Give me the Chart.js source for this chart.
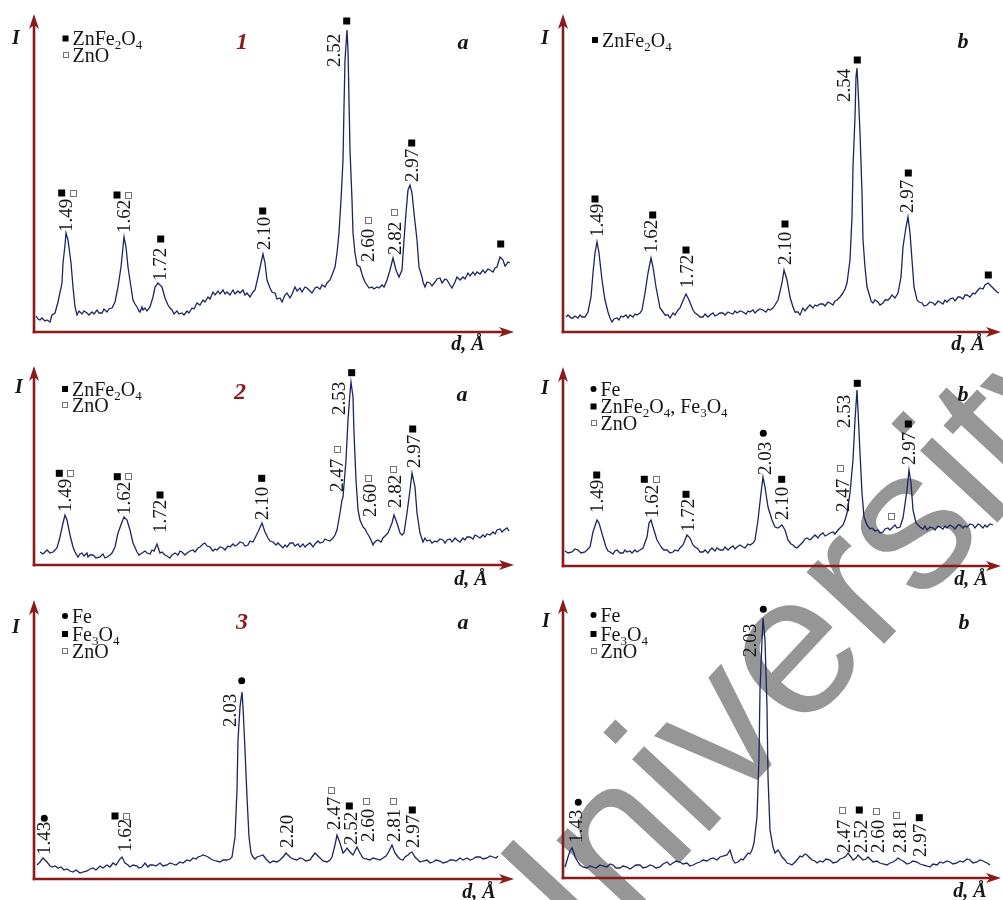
<!DOCTYPE html>
<html><head><meta charset="utf-8">
<script src="https://cdn.jsdelivr.net/npm/chart.js@4.4.1/dist/chart.umd.min.js"></script>
<style>
html,body{margin:0;padding:0;background:#fff;}
#page{position:relative;width:1003px;height:900px;overflow:hidden;background:#fff;}
</style></head><body><div id="page"></div>
<script>
// ---- Diffraction patterns: [position along d axis (arb. units), intensity (arb. units)] ----
const p1a = [[2,16],[4,13],[6,12],[8,14],[11,11],[13,12],[16,10],[18,17],[21,19],[24,30],[28,49],[29,69],[31,87],[32,99],[34,92],[37,69],[39,45],[41,25],[43,17],[45,21],[48,18],[50,21],[53,19],[55,17],[58,20],[60,18],[63,22],[65,19],[68,19],[70,23],[73,20],[75,23],[78,24],[81,30],[84,45],[87,65],[89,85],[90,95],[92,85],[94,65],[97,45],[99,32],[101,28],[103,25],[105,21],[106,20],[108,25],[109,22],[111,24],[113,21],[116,25],[119,35],[121,45],[124,49],[128,45],[131,34],[134,27],[136,24],[138,22],[140,18],[143,21],[145,18],[148,19],[150,17],[153,21],[155,19],[158,24],[160,23],[163,29],[166,27],[169,32],[171,30],[174,35],[176,33],[179,40],[181,37],[184,41],[186,38],[189,42],[191,38],[193,40],[196,37],[199,42],[201,38],[204,41],[206,39],[209,42],[211,37],[213,39],[216,35],[219,40],[221,42],[224,55],[227,69],[229,78],[231,69],[233,52],[236,44],[238,40],[241,39],[243,33],[246,34],[248,30],[251,37],[253,39],[256,34],[258,38],[261,45],[263,41],[266,44],[268,40],[271,45],[273,44],[276,41],[278,39],[281,44],[283,45],[286,43],[288,47],[291,45],[293,49],[296,52],[298,57],[301,65],[303,79],[305,99],[307,132],[309,172],[310,225],[311,272],[313,302],[314,282],[315,232],[316,182],[318,132],[319,99],[321,79],[323,67],[326,65],[328,58],[329,55],[331,50],[333,47],[335,44],[338,45],[340,43],[343,45],[345,44],[348,47],[350,45],[353,52],[356,62],[359,74],[362,62],[365,55],[368,62],[370,92],[372,119],[374,142],[376,147],[378,139],[380,119],[383,92],[385,65],[388,55],[389,50],[391,45],[393,50],[396,49],[398,46],[401,50],[403,53],[406,54],[408,49],[411,53],[413,52],[416,47],[418,44],[421,50],[423,55],[426,52],[429,55],[431,53],[434,59],[436,56],[439,60],[441,57],[443,60],[446,58],[449,62],[451,59],[454,63],[456,62],[459,60],[461,64],[463,65],[466,75],[469,72],[471,66],[472,67],[474,70],[476,69]];
const p1b = [[3,15],[5,17],[8,14],[10,14],[12,16],[15,14],[17,17],[19,15],[22,15],[25,20],[28,35],[30,59],[32,79],[34,90],[36,79],[39,52],[42,32],[45,20],[47,14],[49,10],[51,13],[54,14],[56,12],[58,16],[60,15],[63,17],[65,14],[67,17],[70,15],[72,18],[74,17],[77,19],[79,22],[82,39],[85,59],[88,74],[90,65],[93,45],[97,24],[100,20],[102,17],[105,17],[107,14],[110,19],[112,17],[115,22],[117,24],[119,29],[123,38],[126,32],[130,22],[132,19],[135,17],[137,15],[140,15],[142,18],[145,15],[147,17],[150,19],[152,16],[154,17],[157,19],[160,19],[162,17],[165,20],[167,19],[170,18],[172,21],[174,19],[177,21],[180,20],[183,18],[185,21],[187,20],[190,22],[192,19],[194,21],[197,23],[200,22],[203,20],[205,23],[207,22],[210,24],[212,27],[215,32],[219,49],[221,62],[224,52],[227,35],[230,25],[232,20],[235,20],[237,17],[240,24],[242,21],[245,25],[247,27],[250,24],[252,27],[254,26],[257,28],[260,28],[262,26],[265,30],[267,29],[270,27],[272,31],[274,32],[277,35],[280,39],[282,43],[284,49],[287,72],[289,115],[290,165],[292,215],[293,255],[294,264],[295,245],[297,199],[299,139],[300,92],[302,65],[304,45],[307,35],[308,31],[310,29],[312,32],[315,30],[317,27],[320,29],[322,32],[325,32],[327,34],[329,37],[332,34],[335,39],[338,55],[340,85],[343,105],[345,115],[347,99],[349,72],[351,45],[354,32],[356,30],[359,29],[361,26],[364,27],[367,30],[370,29],[372,27],[375,31],[377,30],[380,28],[382,32],[384,30],[387,33],[390,34],[392,31],[395,35],[397,35],[400,33],[402,37],[404,37],[407,35],[410,39],[412,38],[415,42],[417,44],[420,43],[422,47],[425,49],[427,47],[429,45],[432,42],[434,40],[436,39]];
const p2a = [[6,13],[9,11],[13,15],[16,12],[19,13],[21,15],[23,17],[26,28],[29,42],[31,50],[33,45],[36,30],[39,18],[41,13],[44,8],[46,11],[48,12],[50,9],[51,10],[53,12],[54,8],[56,10],[59,10],[62,7],[66,8],[69,11],[71,7],[73,8],[76,10],[78,12],[81,18],[84,32],[88,43],[90,48],[93,45],[96,35],[99,22],[103,13],[105,10],[108,12],[111,14],[113,12],[116,11],[118,15],[120,14],[123,21],[126,12],[128,13],[131,10],[133,9],[136,7],[138,10],[141,12],[144,10],[146,14],[148,13],[151,10],[153,12],[156,14],[159,15],[161,13],[164,17],[166,18],[169,21],[171,22],[173,19],[176,18],[179,14],[181,16],[183,15],[186,18],[189,17],[191,15],[194,19],[196,18],[199,21],[201,19],[203,20],[206,23],[209,22],[211,19],[214,20],[216,24],[219,23],[221,27],[224,33],[228,42],[231,33],[234,27],[236,24],[239,23],[242,20],[244,22],[246,20],[249,17],[251,20],[253,18],[256,22],[259,22],[261,19],[264,21],[266,18],[269,21],[271,18],[273,20],[276,22],[279,18],[281,21],[284,24],[286,22],[289,23],[291,26],[293,25],[296,24],[299,27],[301,30],[303,35],[306,52],[308,65],[309,68],[312,105],[314,145],[316,172],[317,183],[319,168],[320,132],[322,85],[324,55],[326,45],[329,38],[331,36],[333,32],[335,29],[337,25],[339,20],[340,22],[342,24],[344,25],[347,23],[349,27],[351,29],[354,32],[358,42],[360,50],[363,42],[366,32],[368,30],[370,32],[373,52],[376,75],[378,92],[381,78],[383,52],[386,32],[389,23],[391,27],[393,24],[396,25],[398,22],[401,24],[403,23],[406,26],[409,25],[411,22],[413,25],[416,26],[418,23],[421,27],[423,25],[426,23],[429,27],[431,25],[433,28],[436,28],[439,26],[441,30],[443,29],[446,27],[449,30],[451,28],[453,31],[456,30],[459,33],[461,31],[463,35],[466,36],[468,33],[470,35],[473,37],[475,34]];
const p2b = [[2,15],[5,13],[9,14],[12,17],[15,16],[18,13],[22,14],[24,16],[27,19],[30,34],[34,46],[36,43],[40,29],[43,19],[45,15],[47,14],[50,12],[52,15],[54,16],[57,13],[60,13],[62,16],[64,14],[67,15],[69,13],[72,16],[74,14],[77,16],[80,18],[84,29],[86,43],[88,46],[90,39],[94,26],[97,21],[99,18],[101,16],[104,16],[107,13],[110,14],[112,16],[115,15],[117,18],[120,21],[122,26],[124,31],[127,28],[130,21],[132,19],[135,17],[137,14],[140,14],[142,16],[145,13],[147,16],[149,18],[152,15],[154,18],[157,16],[160,16],[162,19],[165,16],[167,18],[170,20],[172,17],[174,19],[177,21],[180,19],[182,18],[185,22],[187,21],[190,23],[192,26],[195,46],[198,73],[200,89],[202,79],[205,59],[209,46],[212,39],[215,38],[219,41],[222,36],[225,26],[228,22],[230,21],[232,19],[234,18],[237,21],[240,24],[242,27],[244,28],[247,26],[250,29],[252,31],[255,28],[257,31],[260,33],[262,30],[264,31],[267,33],[270,34],[272,32],[275,36],[277,38],[280,41],[282,46],[284,53],[287,73],[290,106],[292,146],[294,176],[295,156],[297,113],[299,73],[301,49],[304,41],[307,37],[309,38],[312,35],[315,36],[317,33],[320,34],[322,37],[325,38],[327,36],[330,39],[332,41],[334,38],[337,39],[340,48],[344,76],[346,96],[348,83],[350,56],[353,43],[355,41],[357,39],[360,37],[362,40],[364,36],[367,39],[370,38],[372,36],[375,40],[377,39],[380,37],[382,40],[384,38],[387,41],[390,39],[392,37],[395,41],[397,41],[400,38],[402,40],[404,39],[407,42],[410,41],[412,38],[415,42],[417,41],[420,38],[422,41],[424,39],[427,42],[430,41]];
const p3a = [[3,14],[6,17],[9,21],[11,19],[13,17],[16,13],[18,12],[21,13],[24,11],[27,12],[30,9],[33,10],[36,8],[39,7],[42,9],[46,6],[49,7],[53,8],[56,10],[59,11],[62,9],[66,13],[69,11],[73,14],[76,12],[79,16],[82,14],[84,17],[86,20],[88,22],[91,16],[94,14],[96,12],[99,14],[103,13],[105,11],[108,12],[111,16],[114,12],[116,14],[119,14],[122,13],[126,16],[129,13],[133,14],[136,16],[139,15],[142,14],[146,17],[149,16],[153,19],[156,18],[159,21],[162,20],[164,22],[167,23],[169,24],[172,23],[174,22],[177,20],[179,19],[182,18],[186,17],[189,19],[193,19],[196,20],[198,22],[201,42],[203,89],[204,139],[206,172],[208,187],[209,172],[211,129],[213,82],[215,42],[217,26],[219,22],[221,20],[223,22],[226,23],[229,24],[232,20],[236,16],[239,18],[243,17],[246,19],[249,22],[252,26],[256,22],[259,20],[263,19],[266,21],[269,20],[272,18],[276,19],[278,22],[281,26],[284,23],[286,21],[289,18],[293,17],[296,19],[298,22],[301,34],[303,44],[306,36],[309,26],[311,28],[313,31],[316,27],[319,24],[321,28],[323,32],[326,26],[329,21],[332,20],[336,19],[339,21],[343,20],[346,19],[349,21],[352,23],[354,26],[356,30],[358,34],[361,26],[364,22],[366,20],[369,19],[371,22],[374,24],[376,26],[378,27],[381,22],[384,19],[386,17],[389,18],[393,19],[396,16],[399,17],[402,19],[406,18],[409,16],[413,17],[416,19],[419,19],[422,18],[426,21],[429,19],[433,21],[436,19],[439,20],[442,22],[446,22],[449,20],[453,21],[456,23],[459,22],[462,21],[464,23]];
const p3b = [[2,11],[5,21],[7,27],[9,30],[11,25],[12,21],[15,16],[17,13],[20,11],[24,10],[27,12],[30,11],[33,10],[37,13],[40,12],[44,11],[47,14],[50,13],[53,10],[57,10],[60,12],[64,11],[67,9],[70,11],[73,13],[77,13],[80,10],[84,11],[87,13],[90,12],[93,10],[97,11],[100,14],[104,16],[107,13],[110,15],[113,17],[117,16],[120,14],[124,15],[127,12],[130,13],[134,15],[137,16],[140,18],[144,17],[147,19],[150,20],[154,18],[157,21],[160,22],[164,23],[167,28],[170,18],[172,15],[175,16],[178,19],[180,18],[183,22],[185,25],[187,24],[189,28],[191,35],[194,61],[196,121],[197,188],[199,238],[200,260],[202,238],[204,171],[205,101],[207,48],[210,31],[212,25],[215,28],[217,25],[219,21],[222,18],[224,15],[227,14],[229,13],[232,16],[234,18],[237,22],[239,21],[242,24],[244,23],[247,20],[249,18],[252,17],[254,15],[257,17],[260,16],[263,19],[267,18],[270,15],[274,16],[277,19],[280,20],[283,22],[285,25],[288,21],[290,18],[293,20],[295,23],[298,20],[300,18],[303,19],[305,21],[308,18],[310,16],[314,17],[317,15],[320,14],[324,13],[327,15],[330,16],[333,18],[335,20],[338,18],[340,17],[344,14],[347,15],[350,17],[354,16],[357,14],[360,13],[364,12],[367,11],[370,14],[374,13],[377,16],[380,15],[384,17],[387,16],[390,14],[394,15],[397,17],[400,16],[404,19],[407,18],[410,15],[414,16],[417,18],[420,17],[424,15],[427,13]];

// ---- Peak labels: [d value text, label centre, label foot, phase marks [kind, x, y]] ----
// kind: f = ZnFe2O4 / Fe3O4 (filled square), o = ZnO (open square), c = Fe (circle)
const lab1a = [['1.49',32,100,[['f',27.7,139],['o',39.3,139]]],['1.62',90,99,[['f',83,137],['o',94,137]]],['1.72',126,51,[['f',126.7,93]]],['2.10',229.3,82,[['f',228.7,121]]],['2.52',299.3,265,[['f',312.7,311]]],['2.60',333.8,70,[['o',334.3,112]]],['2.82',361,77,[['o',360.3,120]]],['2.97',378,150,[['f',377.7,189]]],['',466.7,0,[['f',466.7,88]]]];
const lab1b = [['1.49',33.3,95,[['f',32,133]]],['1.62',88,79,[['f',89.7,117]]],['1.72',123.7,44,[['f',123,82]]],['2.10',222,67,[['f',222,108]]],['2.54',280.3,230,[['f',294.3,272]]],['2.97',343.7,119,[['f',345.3,159]]],['',425.3,0,[['f',425.3,57]]]];
const lab2a = [['1.49',30.5,53,[['f',25.3,91.7],['o',36.7,91.7]]],['1.62',89.3,50,[['f',83.3,88.3],['o',94.3,88.3]]],['1.72',125.7,32,[['f',126,70]]],['2.10',227.7,45,[['f',227.7,86.7]]],['2.47',302.7,73,[['o',303.3,115.7]]],['2.53',304.3,150,[['f',317.7,192.3]]],['2.60',335.3,48,[['o',334.3,86.7]]],['2.82',361,57,[['o',359.3,96]]],['2.97',379.3,97,[['f',378.7,136]]]];
const lab2b = [['1.49',34,53,[['f',33.7,91]]],['1.62',88.7,48,[['f',81.3,86.7],['o',93,86.7]]],['1.72',125,34,[['f',123,71.7]]],['2.03',202,91,[['c',200.3,132.7]]],['2.10',218.7,46,[['f',218.7,86.7]]],['2.47',279.7,54,[['o',277.7,97.7]]],['2.53',281,138,[['f',294.3,182.7]]],['2.97',345.3,101,[['f',345.3,142]]],['',328.7,0,[['o',328.7,49.3]]]];
const lab3a = [['1.43',10.2,24,[['c',10.3,60.7]]],['1.62',90.5,27,[['f',81,63],['o',92,63]]],['2.03',195.3,152,[['c',207.7,198.3]]],['2.20',252.7,31,[]],['2.47',299.3,49,[['o',297.7,88.3]]],['2.52',317.2,34,[['f',315.3,73]]],['2.60',333.8,37,[['o',332,78]]],['2.81',359.3,37,[['o',359.3,78]]],['2.97',378.7,31,[['f',378.3,69]]]];
const lab3b = [['1.43',13,35,[['c',15.3,75.7]]],['2.03',187,221,[['c',200.3,268.7]]],['2.47',280.3,25,[['o',279.7,68]]],['2.52',297.8,25,[['f',296.3,68]]],['2.60',314.8,25,[['o',313.7,66.3]]],['2.81',337,25,[['o',333.7,63]]],['2.97',357,21,[['f',356.3,60.3]]]];

// ---- Legend entries (text segments: [text, isSubscript]) ----
const ZNFE = [['ZnFe',0],['2',1],['O',0],['4',1]];
const ZNFE_FE3 = [['ZnFe',0],['2',1],['O',0],['4',1],[', Fe',0],['3',1],['O',0],['4',1]];
const FE3 = [['Fe',0],['3',1],['O',0],['4',1]];
const ZNO = [['ZnO',0]];
const FE = [['Fe',0]];

// ---- Layout (page pixels) ----
const panels = [
 {data:p1a, labels:lab1a, box:[0,0,530,360], ax:34, at:14, ay:332, ar:514, I:[16,39], num:['1',242,43], letter:['a',463,43], d:[468,345], legX:65.5, legRows:[38.5,55], leg:[['f',ZNFE],['o',ZNO]]},
 {data:p1b, labels:lab1b, box:[530,0,473,360], ax:563, at:14, ay:332, ar:1001, I:[545,39], num:null, letter:['b',963,42], d:[968,345], legX:595, legRows:[40], leg:[['f',ZNFE]]},
 {data:p2a, labels:lab2a, box:[0,360,530,235], ax:34, at:366, ay:565, ar:514, I:[19,388], num:['2',240,393], letter:['a',462,395], d:[471,580], legX:65, legRows:[389,405], leg:[['f',ZNFE],['o',ZNO]]},
 {data:p2b, labels:lab2b, box:[530,360,473,235], ax:563, at:367, ay:566, ar:1001, I:[545,389], num:null, letter:['b',963,395], d:[971,580], legX:593.5, legRows:[389,406.5,423], leg:[['c',FE],['f',ZNFE_FE3],['o',ZNO]]},
 {data:p3a, labels:lab3a, box:[0,595,530,305], ax:34, at:600, ay:879, ar:514, I:[16,628], num:['3',242,623], letter:['a',463,623], d:[479,893], legX:65, legRows:[616,634,651], leg:[['c',FE],['f',FE3],['o',ZNO]]},
 {data:p3b, labels:lab3b, box:[530,595,473,305], ax:563, at:599, ay:878, ar:1001, I:[546,622], num:null, letter:['b',964,623], d:[970,892], legX:593.5, legRows:[615,634,651], leg:[['c',FE],['f',FE3],['o',ZNO]]}
];

const AXIS = '#8b1a1a', LINE = '#1c2462', TXT = '#161616';
const SERIF = '"Liberation Serif", "Times New Roman", serif';
const store = new Map();

function mark(ctx, kind, x, y, s){
  ctx.save();
  if(kind==='f'){ ctx.fillStyle='#000'; ctx.fillRect(x-s/2, y-s/2, s, s); }
  else if(kind==='o'){ ctx.fillStyle='#fff'; ctx.fillRect(x-s/2, y-s/2, s, s); ctx.strokeStyle='#7a726c'; ctx.lineWidth=1; ctx.strokeRect(Math.round(x-s/2)+0.5, Math.round(y-s/2)+0.5, s-1, s-1); }
  else { ctx.fillStyle='#000'; ctx.beginPath(); ctx.arc(x, y, s/2, 0, Math.PI*2); ctx.fill(); }
  ctx.restore();
}
function rich(ctx, segs, x, y, size){
  for(const [t,sub] of segs){
    ctx.font = (sub? Math.round(size*0.66): size) + 'px ' + SERIF;
    ctx.fillText(t, x, sub? y+size*0.2 : y);
    x += ctx.measureText(t).width;
  }
}

const deco = {
  id:'deco',
  beforeDatasetsDraw(chart){
    const ctx = chart.ctx, a = chart.chartArea;
    ctx.save();
    ctx.strokeStyle = AXIS; ctx.fillStyle = AXIS; ctx.lineWidth = 2.6; ctx.lineCap='butt';
    ctx.beginPath(); ctx.moveTo(a.left, a.bottom+1.3); ctx.lineTo(a.left, a.top+8); ctx.stroke();
    ctx.beginPath(); ctx.moveTo(a.left-1.3, a.bottom); ctx.lineTo(a.right-8, a.bottom); ctx.stroke();
    ctx.beginPath(); ctx.moveTo(a.left, a.top); ctx.lineTo(a.left+5, a.top+15); ctx.lineTo(a.left, a.top+11); ctx.lineTo(a.left-5, a.top+15); ctx.closePath(); ctx.fill();
    ctx.beginPath(); ctx.moveTo(a.right, a.bottom); ctx.lineTo(a.right-15, a.bottom-5); ctx.lineTo(a.right-11, a.bottom); ctx.lineTo(a.right-15, a.bottom+5); ctx.closePath(); ctx.fill();
    ctx.restore();
  },
  afterDatasetsDraw(chart){
    const P = store.get(chart.canvas.id), ctx = chart.ctx;
    const X = chart.scales.x, Y = chart.scales.y;
    const ox = P.box[0], oy = P.box[1];
    ctx.save();
    ctx.fillStyle = TXT; ctx.textAlign='center'; ctx.textBaseline='middle';
    ctx.font = 'bold italic 20px ' + SERIF; ctx.fillText('I', P.I[0]-ox, P.I[1]-oy);
    ctx.font = 'bold italic 22px ' + SERIF; ctx.fillText(P.letter[0], P.letter[1]-ox, P.letter[2]-oy);
    ctx.font = 'bold italic 20px ' + SERIF; ctx.fillText('d, \u00C5', P.d[0]-ox, P.d[1]-oy);
    if(P.num){ ctx.fillStyle = AXIS; ctx.font = 'bold italic 24px ' + SERIF; ctx.fillText(P.num[0], P.num[1]-ox, P.num[2]-oy); }
    ctx.fillStyle = TXT; ctx.textAlign='left'; ctx.textBaseline='alphabetic';
    P.leg.forEach((it,i)=>{
      const y = P.legRows[i]-oy, x = P.legX-ox;
      mark(ctx, it[0], x, y, 6);
      ctx.fillStyle = TXT;
      rich(ctx, it[1], x+7, y+6.5, 20);
    });
    const fs = 19;
    ctx.font = fs+'px ' + SERIF;
    for(const [t, cx, foot, marks] of P.labels){
      if(t){
        ctx.save();
        ctx.translate(X.getPixelForValue(cx), Y.getPixelForValue(foot));
        ctx.rotate(-Math.PI/2);
        ctx.fillStyle = TXT; ctx.textAlign='left'; ctx.textBaseline='alphabetic';
        ctx.fillText(t, 0, fs*0.33);
        ctx.restore();
      }
      for(const [k, mx, my] of marks) mark(ctx, k, X.getPixelForValue(mx), Y.getPixelForValue(my), 7);
    }
    ctx.restore();
  }
};

const page = document.getElementById('page');

// watermark (underneath the charts)
const wm = document.createElement('canvas');
wm.width = 1003; wm.height = 900;
wm.style.cssText = 'position:absolute;left:0;top:0;pointer-events:none;';
page.appendChild(wm);
const w = wm.getContext('2d');
w.save();
w.translate(526, 1028); w.rotate(-47*Math.PI/180);
w.font = '200px "Liberation Sans", Arial, sans-serif';
w.fillStyle = 'rgb(150,150,150)';
w.fillText('University', 0, 0);
w.restore();

panels.forEach((P, i)=>{
  const c = document.createElement('canvas');
  c.id = 'pan'+i; c.width = P.box[2]; c.height = P.box[3];
  c.style.cssText = `position:absolute;left:${P.box[0]}px;top:${P.box[1]}px;width:${P.box[2]}px;height:${P.box[3]}px;`;
  page.appendChild(c);
  store.set(c.id, P);
  new Chart(c, {
    type:'scatter',
    data:{datasets:[{data:P.data.map(([x,y])=>({x,y})), showLine:true, borderColor:LINE, borderWidth:1.3, pointRadius:0, fill:false, tension:0}]},
    options:{responsive:false, animation:false, events:[],
      layout:{padding:{left:P.ax-P.box[0], top:P.at-P.box[1], right:P.box[0]+P.box[2]-P.ar, bottom:P.box[1]+P.box[3]-P.ay}},
      plugins:{legend:{display:false}, tooltip:{enabled:false}},
      scales:{x:{type:'linear', display:false, min:0, max:P.ar-P.ax}, y:{type:'linear', display:false, min:0, max:P.ay-P.at}}},
    plugins:[deco]
  });
});
</script></body></html>
